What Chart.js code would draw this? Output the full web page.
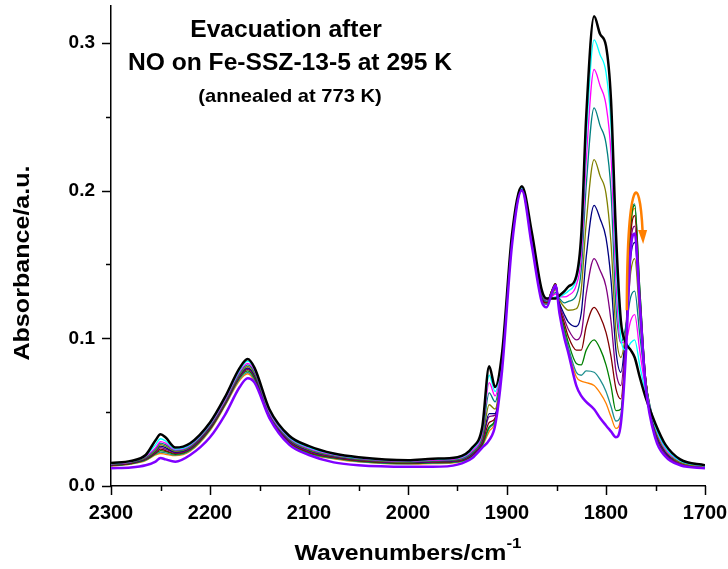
<!DOCTYPE html>
<html>
<head>
<meta charset="utf-8">
<script src="https://cdn.jsdelivr.net/npm/chart.js@4.4.0/dist/chart.umd.min.js"></script>
<style>
  html, body { margin: 0; padding: 0; background: #fff; }
</style>
</head>
<body>
<canvas id="spectra" width="728" height="569"></canvas>
<script>
// wavenumbers (cm-1)
const wavenumbers = [2300, 2280, 2265, 2255, 2250, 2245, 2235, 2220, 2200, 2185,
  2170, 2162, 2155, 2140, 2120, 2100, 2075, 2050, 2000, 1975,
  1950, 1935, 1925, 1918, 1912, 1905, 1895, 1885, 1875, 1865,
  1860, 1855, 1851, 1847, 1842, 1838, 1830, 1825, 1820, 1812, 1806, 1800,
  1795, 1790, 1785, 1780, 1775, 1771, 1766, 1760, 1750, 1740,
  1725, 1700];

// absorbance, from start of evacuation (black) to end (violet)
const absBlack = [.0155, .017, .021, .031, .035, .033, .026, .029, .043, .060,
  .080, .086, .080, .052, .034, .027, .022, .0195, .0175, .0185,
  .0195, .026, .040, .081, .067, .090, .170, .203, .172, .133,
  .127, .127, .127, .129, .132, .135, .142, .170, .250, .318, .306, .298,
  .262, .172, .112, .097, .092, .087, .074, .060, .042, .028,
  .018, .014];
const absCyan = [.0152, .0167, .0205, .028, .032, .0305, .025, .028, .042, .059,
  .0785, .0845, .079, .051, .033, .026, .0215, .019, .017, .018,
  .019, .025, .038, .075, .064, .089, .169, .202, .171, .133,
  .127, .127, .128, .128, .130, .132, .140, .163, .235, .302, .292, .280,
  .245, .155, .100, .092, .097, .099, .082, .063, .040, .026,
  .017, .0135];
const absMagenta = [.015, .0164, .020, .026, .030, .029, .0245, .0275, .0415, .058,
  .0775, .083, .078, .050, .0325, .0255, .021, .0187, .0167, .0175,
  .0185, .024, .036, .070, .061, .088, .168, .202, .170, .132,
  .126, .128, .130, .128, .128, .129, .136, .155, .220, .282, .271, .258,
  .225, .140, .097, .098, .112, .116, .092, .066, .040, .025,
  .017, .0135];
const absTeal = [.0148, .0162, .0195, .025, .029, .028, .024, .027, .041, .0575,
  .0765, .082, .077, .0495, .032, .025, .0207, .0184, .0165, .0172,
  .018, .023, .034, .063, .057, .087, .168, .202, .169, .131,
  .125, .128, .131, .127, .124, .125, .129, .146, .203, .256, .244, .232,
  .200, .122, .097, .108, .128, .132, .103, .070, .040, .025,
  .017, .0135];
const absOlive = [.0146, .016, .019, .024, .028, .027, .0235, .0265, .0405, .057,
  .0755, .081, .076, .049, .0315, .0245, .0204, .0181, .0162, .017,
  .0177, .0225, .032, .055, .052, .086, .167, .202, .168, .130,
  .125, .129, .133, .126, .121, .119, .120, .133, .178, .221, .210, .198,
  .165, .105, .087, .105, .145, .154, .115, .072, .038, .024,
  .016, .013];
const absNavy = [.0144, .0158, .0187, .0235, .027, .026, .023, .026, .040, .0565,
  .075, .080, .075, .0485, .031, .024, .020, .0178, .016, .0167,
  .0174, .022, .031, .049, .049, .085, .167, .201, .167, .129,
  .125, .130, .134, .124, .116, .111, .108, .117, .155, .190, .181, .168,
  .140, .092, .077, .105, .155, .165, .120, .072, .037, .023,
  .016, .013];
const absPurple = [.0142, .0156, .0184, .023, .026, .025, .0225, .0255, .0395, .056,
  .0745, .0795, .0745, .048, .0305, .0235, .0197, .0175, .0158, .0164,
  .0171, .0215, .030, .047, .048, .084, .166, .201, .166, .128,
  .125, .131, .136, .123, .113, .106, .099, .103, .130, .154, .146, .135,
  .112, .078, .068, .105, .165, .176, .125, .072, .036, .022,
  .015, .013];
const absMaroon = [.014, .0154, .0181, .0225, .025, .024, .022, .025, .039, .0555,
  .074, .079, .074, .0475, .030, .023, .0194, .0172, .0156, .0161,
  .0168, .021, .029, .043, .046, .083, .166, .201, .166, .127,
  .124, .132, .137, .122, .110, .101, .092, .092, .108, .121, .115, .104,
  .088, .066, .059, .100, .170, .183, .130, .073, .036, .022,
  .015, .013];
const absGreen = [.0138, .0152, .0178, .022, .024, .0235, .0215, .0245, .0385, .055,
  .0735, .078, .073, .047, .0295, .0225, .019, .0169, .0153, .0158,
  .0165, .0205, .028, .040, .045, .082, .165, .201, .165, .127,
  .124, .132, .137, .121, .107, .097, .083, .082, .092, .099, .093, .082,
  .068, .051, .052, .095, .175, .190, .135, .073, .035, .022,
  .015, .013];
const absDarkCyan = [.0136, .015, .0175, .0215, .023, .0225, .021, .024, .038, .0545,
  .0725, .077, .072, .0465, .029, .022, .0187, .0166, .015, .0155,
  .0162, .020, .0275, .039, .045, .081, .165, .201, .165, .126,
  .123, .132, .137, .120, .105, .094, .077, .075, .078, .077, .072, .064,
  .054, .044, .048, .095, .178, .191, .135, .073, .035, .021,
  .015, .013];
const absOrange = [.0134, .0148, .0172, .021, .022, .0215, .0205, .0235, .0375, .054,
  .0715, .076, .071, .046, .0285, .0215, .0184, .0163, .0148, .0152,
  .0159, .0198, .027, .037, .044, .080, .164, .200, .164, .126,
  .123, .131, .136, .119, .103, .092, .074, .071, .070, .068, .063, .056,
  .047, .039, .046, .095, .176, .188, .133, .073, .035, .021,
  .015, .0135];
const absViolet = [.012, .0125, .014, .0165, .019, .018, .0165, .021, .033, .048,
  .067, .073, .070, .046, .028, .021, .016, .014, .013, .013,
  .0145, .019, .026, .031, .041, .078, .163, .200, .163, .125,
  .121, .130, .136, .117, .100, .090, .068, .061, .057, .052, .046, .041,
  .037, .033, .042, .088, .160, .171, .125, .068, .032, .020,
  .014, .012];

const yTickLabels = ["0.0", "0.1", "0.2", "0.3"];
const xTickLabels = ["2300", "2200", "2100", "2000", "1900", "1800", "1700"];

const FONT = "'Liberation Sans', Arial, Helvetica, sans-serif";

function pts(values) {
  return wavenumbers.map(function (w, i) { return { x: w, y: values[i] }; });
}

function line(values, color, width, order) {
  return {
    data: pts(values),
    borderColor: color,
    borderWidth: width,
    pointRadius: 0,
    fill: false,
    cubicInterpolationMode: "monotone",
    order: order,
  };
}

function isMajorY(v) {
  return Math.abs(v * 10 - Math.round(v * 10)) < 1e-6 && yTickLabels.indexOf(v.toFixed(1)) >= 0;
}

// keep the plot box where the reference has it
function noPad(scale) {
  scale.paddingTop = 0;
  scale.paddingBottom = 0;
  scale.paddingLeft = 0;
  scale.paddingRight = 0;
}

// text a little wider than the font, like the original
function wideText(ctx, text, x, y, size, sx, align) {
  ctx.save();
  ctx.font = "bold " + size + "px " + FONT;
  ctx.translate(x, y);
  ctx.scale(sx, 1);
  ctx.textAlign = align;
  ctx.fillText(text, 0, 0);
  ctx.restore();
}

// outward major/minor tick marks
const tickMarks = {
  id: "tickMarks",
  afterDraw: function (chart) {
    const ctx = chart.ctx;
    const xs = chart.scales.x, ys = chart.scales.y;
    ctx.save();
    ctx.strokeStyle = "#000";
    ctx.lineWidth = 1.5;
    ys.ticks.forEach(function (t) {
      const y = Math.round(ys.getPixelForValue(t.value)) + 0.5;
      ctx.beginPath();
      ctx.moveTo(ys.right, y);
      ctx.lineTo(ys.right - (isMajorY(t.value) ? 9 : 5), y);
      ctx.stroke();
    });
    xs.ticks.forEach(function (t) {
      const x = Math.round(xs.getPixelForValue(t.value)) + 0.5;
      ctx.beginPath();
      ctx.moveTo(x, xs.top);
      ctx.lineTo(x, xs.top + (t.value % 100 === 0 ? 9 : 5));
      ctx.stroke();
    });
    ctx.restore();
  },
};

// axis titles and the text block inside the plot
const texts = {
  id: "texts",
  afterDraw: function (chart) {
    const ctx = chart.ctx;
    const area = chart.chartArea;
    ctx.save();
    ctx.fillStyle = "#000";
    ctx.textBaseline = "alphabetic";

    wideText(ctx, "Evacuation after", 286, 37, 23, 1.07, "center");
    wideText(ctx, "NO on Fe-SSZ-13-5 at 295 K", 290, 70, 23, 1.07, "center");
    wideText(ctx, "(annealed at 773 K)", 290, 102, 19, 1.06, "center");

    // x title with superscript
    const sx = 1.13;
    const main = "Wavenumbers/cm";
    ctx.font = "bold 15px " + FONT;
    const supW = ctx.measureText("-1").width * sx;
    ctx.font = "bold 22px " + FONT;
    const mainW = ctx.measureText(main).width * sx;
    const cx = (area.left + area.right) / 2;
    const x0 = cx - (mainW + supW) / 2;
    wideText(ctx, main, x0, 560, 22, sx, "left");
    wideText(ctx, "-1", x0 + mainW, 548, 15, sx, "left");

    // y title
    ctx.translate(29, 263);
    ctx.rotate(-Math.PI / 2);
    wideText(ctx, "Absorbance/a.u.", 0, 0, 22, 1.14, "center");
    ctx.restore();
  },
};

// orange arrow over the 1770 band
const arrowStart = [1779, 0.119];
const arrowCp1 = [1778.5, 0.212];
const arrowCp2 = [1766, 0.215];
const arrowEnd = [1763, 0.172];

const bandArrow = {
  id: "bandArrow",
  afterDatasetsDraw: function (chart) {
    const ctx = chart.ctx;
    const xs = chart.scales.x, ys = chart.scales.y;
    function px(p) { return [xs.getPixelForValue(p[0]), ys.getPixelForValue(p[1])]; }
    const s = px(arrowStart), c1 = px(arrowCp1), c2 = px(arrowCp2), e = px(arrowEnd);
    ctx.save();
    ctx.strokeStyle = "#FF7F00";
    ctx.fillStyle = "#FF7F00";
    ctx.lineWidth = 2.5;
    ctx.beginPath();
    ctx.moveTo(s[0], s[1]);
    ctx.bezierCurveTo(c1[0], c1[1], c2[0], c2[1], e[0], e[1]);
    ctx.stroke();
    ctx.beginPath();
    ctx.moveTo(e[0] - 4.5, e[1] - 2);
    ctx.lineTo(e[0] + 4.5, e[1] - 2);
    ctx.lineTo(e[0] + 0.5, e[1] + 12);
    ctx.closePath();
    ctx.fill();
    ctx.restore();
  },
};

new Chart(document.getElementById("spectra"), {
  type: "line",
  data: {
    datasets: [
      line(absBlack, "#000000", 2.5, 1),
      line(absCyan, "#00FFFF", 1.3, 2),
      line(absMagenta, "#FF00FF", 1.3, 2),
      line(absTeal, "#008080", 1.3, 2),
      line(absOlive, "#808000", 1.3, 2),
      line(absNavy, "#000080", 1.3, 2),
      line(absPurple, "#800080", 1.3, 2),
      line(absMaroon, "#800000", 1.3, 2),
      line(absGreen, "#008000", 1.3, 2),
      line(absDarkCyan, "#1F8F8F", 1.3, 2),
      line(absOrange, "#FF8000", 1.3, 2),
      line(absViolet, "#8000FF", 2.5, 0),
    ],
  },
  options: {
    responsive: false,
    animation: false,
    devicePixelRatio: 1,
    layout: { padding: { left: 0, top: 6, right: 23, bottom: 0 } },
    plugins: { legend: { display: false }, tooltip: { enabled: false } },
    scales: {
      x: {
        type: "linear",
        reverse: true,
        min: 1700,
        max: 2300,
        grid: { display: true, drawOnChartArea: false, drawTicks: false },
        border: { display: true, color: "#000", width: 1.5 },
        ticks: {
          stepSize: 50,
          autoSkip: false,
          maxRotation: 0,
          padding: 15,
          color: "#000",
          font: { family: FONT, size: 20, weight: "bold" },
          callback: function (v) {
            return xTickLabels.indexOf(String(v)) >= 0 ? String(v) : "";
          },
        },
        afterFit: function (scale) { scale.height = 83; noPad(scale); },
      },
      y: {
        min: 0,
        max: 0.325,
        grid: { display: true, drawOnChartArea: false, drawTicks: false },
        border: { display: true, color: "#000", width: 1.5 },
        ticks: {
          stepSize: 0.05,
          includeBounds: false,
          autoSkip: false,
          padding: 16,
          color: "#000",
          font: { family: FONT, size: 19, weight: "bold" },
          callback: function (v) {
            return isMajorY(v) ? v.toFixed(1) : "";
          },
        },
        afterFit: function (scale) { scale.width = 111; noPad(scale); },
      },
    },
  },
  plugins: [tickMarks, bandArrow, texts],
});
</script>
</body>
</html>
